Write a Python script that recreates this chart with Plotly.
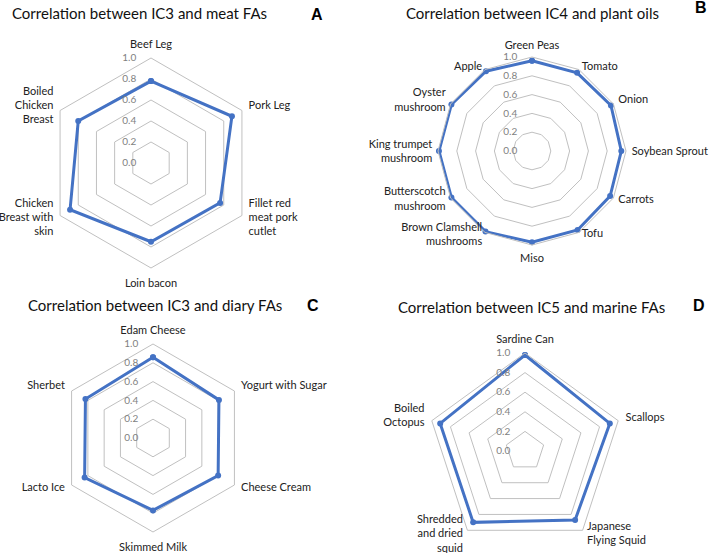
import math
import plotly.graph_objects as go

W, H = 709, 553

cats_a = ["Beef Leg", "Pork Leg", "Fillet red<br>meat pork<br>cutlet", "Loin bacon",
          "Chicken<br>Breast with<br>skin", "Boiled<br>Chicken<br>Breast"]
vals_a = [0.78, 0.89, 0.76, 0.75, 0.89, 0.80]

cats_b = ["Green Peas", "Tomato", "Onion", "Soybean Sprout", "Carrots", "Tofu", "Miso",
          "Brown Clamshell<br>mushrooms", "Butterscotch<br>mushroom", "King trumpet<br>mushroom",
          "Oyster<br>mushroom", "Apple"]
vals_b = [0.96, 0.96, 0.97, 0.95, 0.96, 0.97, 0.97, 0.99, 0.99, 0.99, 0.99, 0.98]

cats_c = ["Edam Cheese", "Yogurt with Sugar", "Cheese Cream", "Skimmed Milk", "Lacto Ice", "Sherbet"]
vals_c = [0.86, 0.81, 0.80, 0.77, 0.84, 0.83]

cats_d = ["Sardine Can", "Scallops", "Japanese<br>Flying Squid", "Shredded<br>and dried<br>squid",
          "Boiled<br>Octopus"]
vals_d = [0.98, 0.91, 0.87, 0.90, 0.91]

titles = ["Correlation between IC3 and meat FAs", "Correlation between IC4 and plant oils",
          "Correlation between IC3 and diary FAs", "Correlation between IC5 and marine FAs"]
letters = ["A", "B", "C", "D"]
radial_ticks = [0.0, 0.2, 0.4, 0.6, 0.8, 1.0]

BLUE = "#4472C4"
GRID = "#c0c0c0"
FONT = "Lato"
PAD = "\u00a0" * 5
NB = "\u00a0"

# (cx, cy, r) in pixels from top-left
geom = [(151, 163, 105), (532, 151, 94), (153, 438, 94), (525, 451, 98)]
title_pos = [(139, 13), (532, 13), (155, 305), (531, 307)]
letter_pos = [(317, 14), (701, 8), (313, 305), (699, 305)]
label_size = [11, 11, 11, 11]
label_len = [5, 3, 5, 5]


def centered_label(label, i, n, fs):
    """Pad a label with blank lines so plotly centres it vertically on its spoke (Excel style)."""
    s = math.cos(2 * math.pi * i / n)
    m = len(label.split("<br>"))
    L = 1.3 * fs
    if abs(s) > 0.99 or abs(s) < 0.01:
        return label
    if s < 0:
        d = 5.0
        k = max(0, round((m * L / 2 + d) / (0.5 * (1 + s) * L) - m))
        return label + ("<br>" + NB) * k
    d = 3.0 if s < 0.8 else 0.0
    k = max(0, round((s * m * L - 2 * d) / ((1 - s) * L)))
    return (NB + "<br>") * k + label


fig = go.Figure()
datasets = [(cats_a, vals_a), (cats_b, vals_b), (cats_c, vals_c), (cats_d, vals_d)]
for i, (cats, vals) in enumerate(datasets):
    name = "polar" if i == 0 else f"polar{i+1}"
    fig.add_trace(go.Scatterpolar(
        r=vals + vals[:1], theta=cats + cats[:1], mode="lines+markers",
        line=dict(color=BLUE, width=3), marker=dict(color=BLUE, size=6),
        subplot=name, showlegend=False, cliponaxis=False, hoverinfo="skip"))
    cx, cy, r = geom[i]
    dom_x = [(cx - r) / W, (cx + r) / W]
    dom_y = [(H - cy - r) / H, (H - cy + r) / H]
    n = len(cats)
    fs = label_size[i]
    fig.update_layout(**{name: dict(
        domain=dict(x=dom_x, y=dom_y),
        gridshape="linear",
        bgcolor="white",
        radialaxis=dict(range=[0, 1], tickvals=radial_ticks,
                        ticktext=[f"{v:.1f}" + PAD for v in radial_ticks],
                        angle=90, tickangle=90, showline=False, ticks="", gridcolor=GRID, gridwidth=1,
                        side="counterclockwise",
                        tickfont=dict(family=FONT, size=10, color="#7f7f7f")),
        angularaxis=dict(rotation=90, direction="clockwise", showgrid=False, showline=True,
                         linecolor=GRID, linewidth=1, ticks="outside", ticklen=label_len[i],
                         tickcolor="rgba(0,0,0,0)",
                         categoryorder="array", categoryarray=cats,
                         tickmode="array", tickvals=cats,
                         ticktext=[centered_label(c, j, n, fs) for j, c in enumerate(cats)],
                         tickfont=dict(family=FONT, size=fs, color="#222222")),
    )})

annotations = []
for i in range(4):
    x, y = title_pos[i]
    annotations.append(dict(text=titles[i], x=x / W, y=1 - y / H, xref="paper", yref="paper",
                            showarrow=False, xanchor="center", yanchor="middle",
                            font=dict(family=FONT, size=15, color="#111111")))
    x, y = letter_pos[i]
    annotations.append(dict(text=f"<b>{letters[i]}</b>", x=x / W, y=1 - y / H,
                            xref="paper", yref="paper",
                            showarrow=False, xanchor="center", yanchor="middle",
                            font=dict(family="Liberation Sans", size=16, color="#000000")))

fig.update_layout(width=W, height=H, margin=dict(l=0, r=0, t=0, b=0),
                  paper_bgcolor="white", annotations=annotations)
fig.write_html("out.html", config={"displayModeBar": False},
               post_script="document.body.style.margin='0';document.body.style.overflow='hidden';")
